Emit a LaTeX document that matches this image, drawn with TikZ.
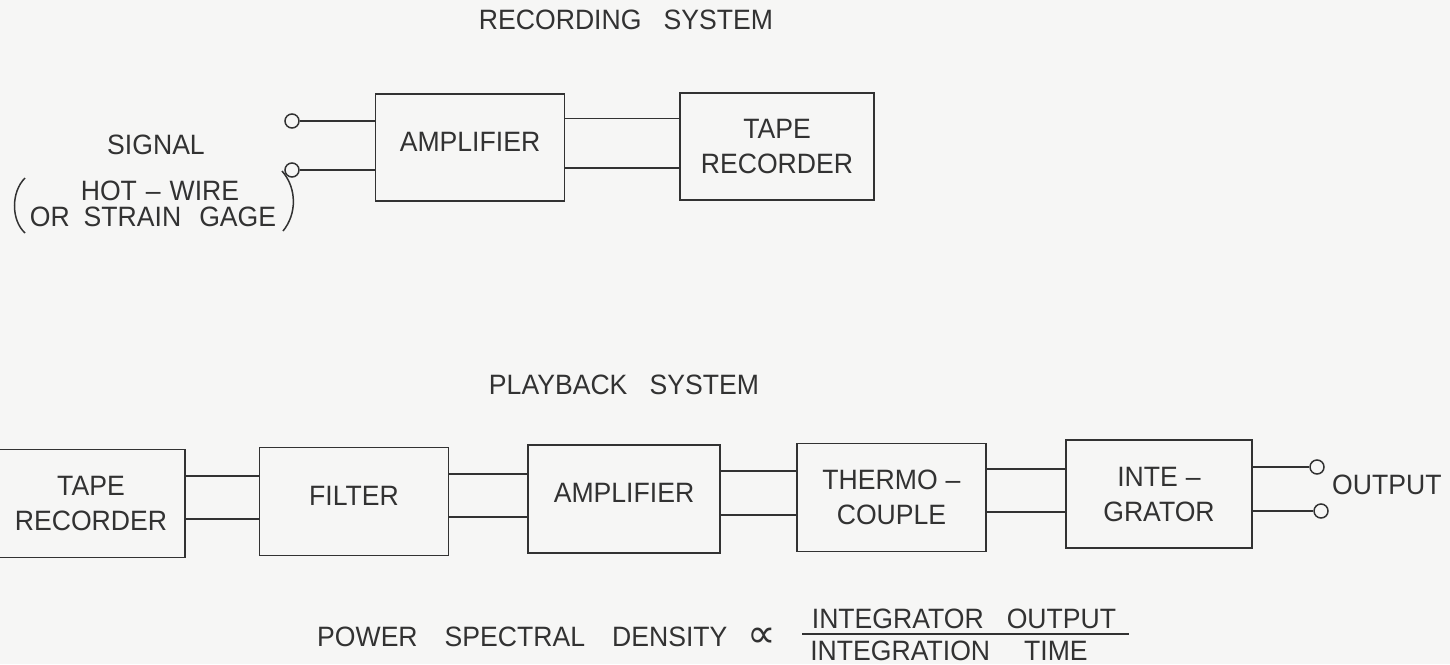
\documentclass[tikz,border=0pt]{standalone}
\usepackage{fontspec}
\newfontfamily\lettering[FakeStretch=0.95,WordSpace=3]{Liberation Sans}
\newfontfamily\symfont{DejaVu Sans}
\definecolor{paper}{RGB}{246,246,245}
\definecolor{ink}{RGB}{50,50,50}
\tikzset{
  lbl/.style={font=\lettering\fontsize{28}{35}\selectfont, text=ink, inner sep=0pt, align=center},
  blk/.style={lbl, draw=ink, line width=1.7pt, minimum height=108pt},
  oneline/.style={text depth=12pt},
  wire/.style={draw=ink, line width=1.7pt},
  term/.style={circle, draw=ink, line width=1.5pt, minimum size=14pt, inner sep=0pt},
  paren/.style={draw=ink, line width=1.5pt}
}
\begin{document}
\begin{tikzpicture}[x=1pt,y=-1pt]
\fill[paper] (0,0) rectangle (1450,664);
\useasboundingbox (0,0) rectangle (1450,664);

% ---------------- Recording system ----------------
\node[lbl] (rtitle) at (626,20) {RECORDING SYSTEM};
\node[blk, oneline, minimum width=189pt, minimum height=107pt] (ramp) at (470,147.5) {AMPLIFIER};
\node[blk, minimum width=194pt, minimum height=107pt] (rtape) at (777,146.5) {TAPE\\RECORDER};
\node[term] (in1) at (292,121) {};
\node[term] (in2) at (292,170) {};
\draw[wire] (in1.east) -- (in1 -| ramp.west);
\draw[wire] (in2.east) -- (in2 -| ramp.west);
\draw[wire] ([yshift=29pt]ramp.east) -- ([yshift=29pt]ramp.east -| rtape.west);
\draw[wire] ([yshift=-20.5pt]ramp.east) -- ([yshift=-20.5pt]ramp.east -| rtape.west);
\node[lbl] (signal) at (156,145) {SIGNAL};
\node[lbl] (hot) at (160,191) {HOT\kern9pt–\kern9pt WIRE};
\node[lbl] (strain) at (153,216.5) {OR\kern14pt STRAIN\kern18pt GAGE};
\coordinate (lp1) at (25,178);
\coordinate (lp2) at (25,233);
\coordinate (rp1) at (282,171);
\coordinate (rp2) at (283,231);
\draw[paren] (lp1) .. controls (11,192) and (11,220) .. (lp2);
\draw[paren] (rp1) .. controls (297,188) and (297,214) .. (rp2);

% ---------------- Playback system ----------------
\node[lbl] (ptitle) at (624,385) {PLAYBACK SYSTEM};
\node[blk, minimum width=188pt] (ptape) at (91,503.5) {TAPE\\RECORDER};
\node[blk, oneline, minimum width=189pt] (filter) at (354,501.5) {FILTER};
\node[blk, oneline, minimum width=192pt] (pamp) at (624,499) {AMPLIFIER};
\node[blk, minimum width=189pt] (thermo) at (891.5,497.5) {THERMO\kern8pt–\\COUPLE};
\node[blk, minimum width=186pt] (integ) at (1159,494) {INTE\kern8pt–\\GRATOR};

\draw[wire] ([yshift=27.5pt]ptape.east) -- ([yshift=27.5pt]ptape.east -| filter.west);
\draw[wire] ([yshift=-15.5pt]ptape.east) -- ([yshift=-15.5pt]ptape.east -| filter.west);
\draw[wire] ([yshift=27.5pt]filter.east) -- ([yshift=27.5pt]filter.east -| pamp.west);
\draw[wire] ([yshift=-15.5pt]filter.east) -- ([yshift=-15.5pt]filter.east -| pamp.west);
\draw[wire] ([yshift=28pt]pamp.east) -- ([yshift=28pt]pamp.east -| thermo.west);
\draw[wire] ([yshift=-16pt]pamp.east) -- ([yshift=-16pt]pamp.east -| thermo.west);
\draw[wire] ([yshift=28.5pt]thermo.east) -- ([yshift=28.5pt]thermo.east -| integ.west);
\draw[wire] ([yshift=-14.5pt]thermo.east) -- ([yshift=-14.5pt]thermo.east -| integ.west);

\node[term] (out1) at (1317,467) {};
\node[term] (out2) at (1321,511) {};
\draw[wire] (out1.west -| integ.east) -- (out1.west);
\draw[wire] (out2.west -| integ.east) -- (out2.west);
\node[lbl, anchor=west] (output) at (1332,485) {OUTPUT};

% ---------------- Formula ----------------
\node[lbl, anchor=west] (psd) at (317,637) {POWER\hspace{27pt}SPECTRAL\hspace{27pt}DENSITY};
\node[lbl] (prop) at (762,638) {\symfont\fontsize{40}{40}\selectfont ∝};
\node[lbl] (num) at (964,618.5) {INTEGRATOR\hspace{23pt}OUTPUT};
\node[lbl] (den) at (949,651) {INTEGRATION\hspace{34pt}TIME};
\coordinate (fl) at (802,634);
\coordinate (fr) at (1129,634);
\draw[wire, line width=1.5pt] (fl) -- (fr);
\end{tikzpicture}
\end{document}
